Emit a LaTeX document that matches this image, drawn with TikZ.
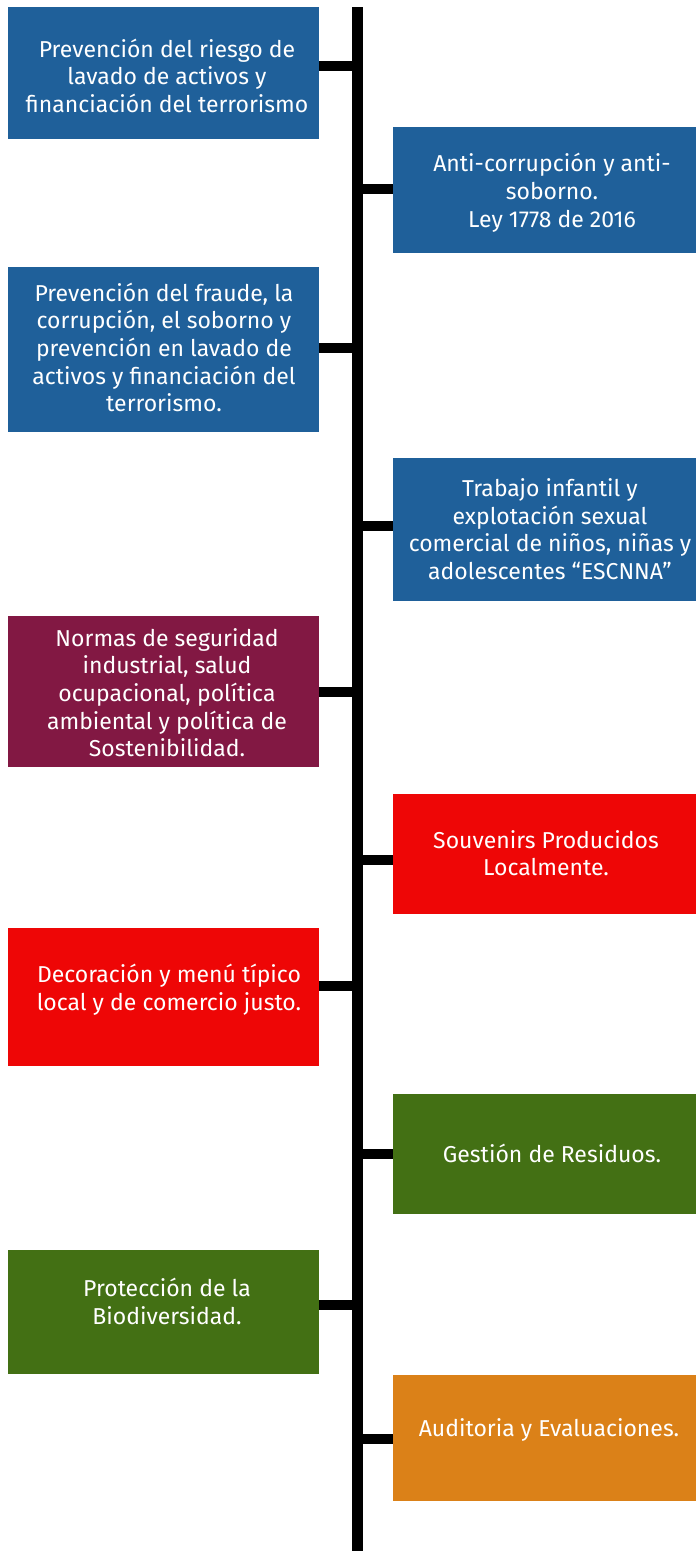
\documentclass[tikz,border=0pt]{standalone}
\usepackage{fontspec}
\setmainfont{Fira Sans}
\definecolor{cblue}{RGB}{31,96,154}
\definecolor{cmaroon}{RGB}{130,24,67}
\definecolor{cred}{RGB}{238,6,6}
\definecolor{cgreen}{RGB}{67,112,20}
\definecolor{corange}{RGB}{219,129,24}
\tikzset{
  boxshape/.style={draw=none, inner sep=0pt, outer sep=0pt, rectangle},
  leftbox/.style={boxshape, minimum width=311pt},
  rightbox/.style={boxshape, minimum width=303pt},
  boxtext/.style={text=white, align=center, inner sep=0pt, anchor=base,
    font=\fontsize{23}{27.6}\selectfont},
  spine/.style={line width=11pt, draw=black},
  branch/.style={line width=10.5pt, draw=black},
}
\begin{document}
\begin{tikzpicture}[x=1pt,y=1pt]
\useasboundingbox (0,0) rectangle (696,-1551);
% boxes
\node[leftbox,  fill=cblue,   minimum height=132pt] (b1)  at (163.5,-73)    {};
\node[rightbox, fill=cblue,   minimum height=126pt] (b2)  at (544.5,-190)   {};
\node[leftbox,  fill=cblue,   minimum height=165pt] (b3)  at (163.5,-349.5) {};
\node[rightbox, fill=cblue,   minimum height=143pt] (b4)  at (544.5,-529.5) {};
\node[leftbox,  fill=cmaroon, minimum height=151pt] (b5)  at (163.5,-691.5) {};
\node[rightbox, fill=cred,    minimum height=120pt] (b6)  at (544.5,-854)   {};
\node[leftbox,  fill=cred,    minimum height=138pt] (b7)  at (163.5,-997)   {};
\node[rightbox, fill=cgreen,  minimum height=120pt] (b8)  at (544.5,-1154)  {};
\node[leftbox,  fill=cgreen,  minimum height=124pt] (b9)  at (163.5,-1312)  {};
\node[rightbox, fill=corange, minimum height=126pt] (b10) at (544.5,-1438)  {};
% texts (anchor = baseline of last line)
\node[boxtext] (t1) at (167,-112.2) {Prevención del riesgo de\\lavado de activos y\\financiación del terrorismo};
\node[boxtext] (t2) at (552,-227) {Anti-corrupción y anti-\\soborno.\\Ley 1778 de 2016};
\node[boxtext] (t3) at (164,-411.7) {Prevención del fraude, la\\corrupción, el soborno y\\prevención en lavado de\\activos y financiación del\\terrorismo.};
\node[boxtext] (t4) at (550,-579.3) {Trabajo infantil y\\explotación sexual\\comercial de niños, niñas y\\adolescentes “ESCNNA”};
\node[boxtext] (t5) at (167,-756.7) {Normas de seguridad\\industrial, salud\\ocupacional, política\\ambiental y política de\\Sostenibilidad.};
\node[boxtext] (t6) at (546,-875.7) {Souvenirs Producidos\\ Localmente.};
\node[boxtext] (t7) at (169,-1010) {Decoración y menú típico\\local y de comercio justo.};
\node[boxtext] (t8) at (552,-1162) {Gestión de Residuos.};
\node[boxtext] (t9) at (167,-1324) {Protección de la\\Biodiversidad.};
\node[boxtext] (t10) at (549,-1436) {Auditoria y Evaluaciones.};
% spine
\coordinate (top) at (357,-7);
\coordinate (bot) at (357,-1551);
\draw[spine] (top) -- (bot);
% branch points
\coordinate (s1) at (357,-66);
\coordinate (s2) at (357,-189);
\coordinate (s3) at (357,-348);
\coordinate (s4) at (357,-526);
\coordinate (s5) at (357,-692);
\coordinate (s6) at (357,-860);
\coordinate (s7) at (357,-986);
\coordinate (s8) at (357,-1154);
\coordinate (s9) at (357,-1305);
\coordinate (s10) at (357,-1439);
\draw[branch] (s1) -- (s1 -| b1.east);
\draw[branch] (s2) -- (s2 -| b2.west);
\draw[branch] (s3) -- (s3 -| b3.east);
\draw[branch] (s4) -- (s4 -| b4.west);
\draw[branch] (s5) -- (s5 -| b5.east);
\draw[branch] (s6) -- (s6 -| b6.west);
\draw[branch] (s7) -- (s7 -| b7.east);
\draw[branch] (s8) -- (s8 -| b8.west);
\draw[branch] (s9) -- (s9 -| b9.east);
\draw[branch] (s10) -- (s10 -| b10.west);
\end{tikzpicture}
\end{document}
